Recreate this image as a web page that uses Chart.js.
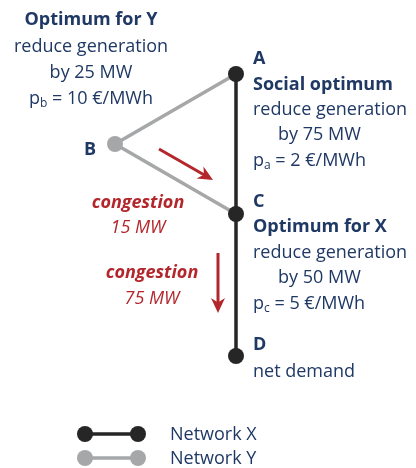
<!DOCTYPE html>
<html>
<head>
<meta charset="utf-8">
<script src="https://cdn.jsdelivr.net/npm/chart.js@4"></script>
<style>
html, body { margin: 0; padding: 0; background: #fff; }
#wrap { width: 416px; height: 468px; }
</style>
</head>
<body>
<div id="wrap"><canvas id="network"></canvas></div>
<script>
// nodes of the two networks (diagram units, y grows downwards)
const nodeNames = ['A', 'B', 'C', 'D'];
const nodeX = [236, 115, 236, 236];
const nodeY = [74, 144, 214, 356];

const networkXNodes = ['A', 'C', 'D'];
const networkYNodes = ['A', 'B', 'C'];

// congestion flows, start and end point of each arrow
const flowStart = [[159, 149], [218, 253]];
const flowEnd = [[213, 180], [218, 313]];

const NAVY = '#1f3864';
const RED = '#b3262b';
const BLACK = '#262626';
const GREY = '#a6a7a8';
const FONT = '"Open Sans"';

function nodePoint(name) {
    const i = nodeNames.indexOf(name);
    return { x: nodeX[i], y: nodeY[i], name: name };
}

// text parts: [text, 'sub'] for subscripts
const notes = [
    { x: 91, y: 18, align: 'center', bold: true, parts: [['Optimum for Y']] },
    { x: 91, y: 45, align: 'center', parts: [['reduce generation']] },
    { x: 91, y: 71, align: 'center', parts: [['by 25 MW']] },
    { x: 91, y: 97, align: 'center', parts: [['p'], ['b', 'sub'], [' = 10 €/MWh']] },
    { x: 90, y: 148, align: 'center', bold: true, parts: [['B']] },

    { x: 253, y: 57, bold: true, parts: [['A']] },
    { x: 253, y: 83, bold: true, parts: [['Social optimum']] },
    { x: 253, y: 108, parts: [['reduce generation']] },
    { x: 278, y: 133, parts: [['by 75 MW']] },
    { x: 253, y: 159, parts: [['p'], ['a', 'sub'], [' = 2 €/MWh']] },

    { x: 253, y: 200, bold: true, parts: [['C']] },
    { x: 253, y: 225, bold: true, parts: [['Optimum for X']] },
    { x: 253, y: 251, parts: [['reduce generation']] },
    { x: 278, y: 276, parts: [['by 50 MW']] },
    { x: 253, y: 302, parts: [['p'], ['c', 'sub'], [' = 5 €/MWh']] },

    { x: 253, y: 343, bold: true, parts: [['D']] },
    { x: 253, y: 370, parts: [['net demand']] },

    { x: 138, y: 201, align: 'center', bold: true, italic: true, color: RED, parts: [['congestion']] },
    { x: 138, y: 226, align: 'center', italic: true, color: RED, parts: [['15 MW']] },
    { x: 152, y: 271, align: 'center', bold: true, italic: true, color: RED, parts: [['congestion']] },
    { x: 152, y: 297, align: 'center', italic: true, color: RED, parts: [['75 MW']] }
];

const legendItems = [
    { label: 'Network X', color: BLACK, y: 434 },
    { label: 'Network Y', color: GREY, y: 458 }
];

function fontFor(note, size) {
    return (note.italic ? 'italic ' : '') + (note.bold ? 'bold ' : '') + size + 'px ' + FONT;
}

function drawNote(ctx, sx, sy, note) {
    const size = 18;
    const subSize = 12;
    const shift = 1.5; // Open Sans sits a little high with 'middle'
    ctx.textBaseline = 'middle';
    ctx.fillStyle = note.color || NAVY;
    let total = 0;
    note.parts.forEach(p => {
        ctx.font = fontFor(note, p[1] === 'sub' ? subSize : size);
        total += ctx.measureText(p[0]).width;
    });
    let x = sx(note.x);
    if (note.align === 'center') x -= total / 2;
    ctx.textAlign = 'left';
    note.parts.forEach(p => {
        const sub = p[1] === 'sub';
        ctx.font = fontFor(note, sub ? subSize : size);
        ctx.fillText(p[0], x, sy(note.y) + shift + (sub ? 5 : 0));
        x += ctx.measureText(p[0]).width;
    });
}

function drawArrow(ctx, x0, y0, x1, y1) {
    const ang = Math.atan2(y1 - y0, x1 - x0);
    const head = 15, half = 7;
    ctx.save();
    ctx.strokeStyle = RED;
    ctx.fillStyle = RED;
    ctx.lineWidth = 3;
    ctx.beginPath();
    ctx.moveTo(x0, y0);
    ctx.lineTo(x1 - Math.cos(ang) * head * 0.6, y1 - Math.sin(ang) * head * 0.6);
    ctx.stroke();
    ctx.translate(x1, y1);
    ctx.rotate(ang);
    ctx.beginPath();
    ctx.moveTo(0, 0);
    ctx.lineTo(-head, -half);
    ctx.lineTo(-head * 0.7, 0);
    ctx.lineTo(-head, half);
    ctx.closePath();
    ctx.fill();
    ctx.restore();
}

const annotations = {
    id: 'annotations',
    afterDatasetsDraw(chart) {
        const ctx = chart.ctx;
        const sx = v => chart.scales.x.getPixelForValue(v);
        const sy = v => chart.scales.y.getPixelForValue(v);

        for (let i = 0; i < flowStart.length; i++) {
            drawArrow(ctx, sx(flowStart[i][0]), sy(flowStart[i][1]), sx(flowEnd[i][0]), sy(flowEnd[i][1]));
        }

        notes.forEach(n => drawNote(ctx, sx, sy, n));

        // legend: a short line with a dot at both ends
        legendItems.forEach(item => {
            const y = sy(item.y);
            ctx.save();
            ctx.strokeStyle = item.color;
            ctx.fillStyle = item.color;
            ctx.lineWidth = 3.5;
            ctx.beginPath();
            ctx.moveTo(sx(85), y);
            ctx.lineTo(sx(138), y);
            ctx.stroke();
            [85, 138].forEach(px => {
                ctx.beginPath();
                ctx.arc(sx(px), y, 8, 0, Math.PI * 2);
                ctx.fill();
            });
            ctx.restore();
            drawNote(ctx, sx, sy, { x: 170, y: item.y - 1, parts: [[item.label]] });
        });
    }
};

new Chart(document.getElementById('network'), {
    type: 'scatter',
    data: {
        datasets: [
            {
                label: 'Network X',
                data: networkXNodes.map(nodePoint),
                showLine: true,
                borderColor: BLACK,
                backgroundColor: BLACK,
                pointBackgroundColor: BLACK,
                pointBorderWidth: 0,
                borderWidth: 3.5,
                pointRadius: 8,
                order: 0
            },
            {
                label: 'Network Y',
                data: networkYNodes.map(nodePoint),
                showLine: true,
                borderColor: GREY,
                backgroundColor: GREY,
                pointBackgroundColor: GREY,
                pointBorderWidth: 0,
                borderWidth: 3.5,
                pointRadius: ctx => (ctx.raw && ctx.raw.name === 'B') ? 8 : 0,
                order: 1
            }
        ]
    },
    options: {
        responsive: true,
        maintainAspectRatio: false,
        animation: false,
        layout: { padding: 0, autoPadding: false },
        scales: {
            x: { type: 'linear', min: 0, max: 416, display: false },
            y: { type: 'linear', min: 0, max: 468, reverse: true, display: false }
        },
        plugins: {
            legend: { display: false },
            tooltip: { enabled: false }
        }
    },
    plugins: [annotations]
});
</script>
</body>
</html>
